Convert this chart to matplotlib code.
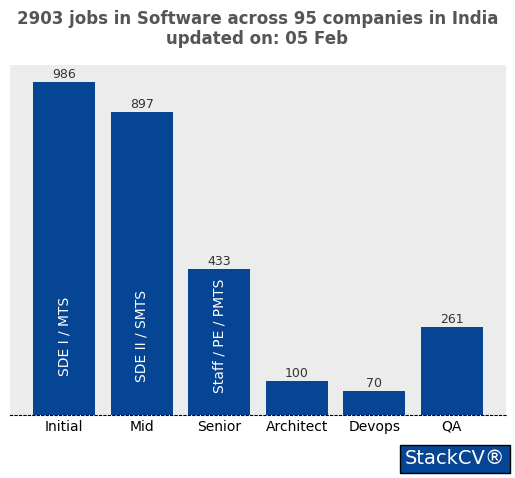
import matplotlib.pyplot as plt

levels = ['Initial', 'Mid', 'Senior', 'Architect', 'Devops', 'QA']
jobs = [986, 897, 433, 100, 70, 261]
inner_labels = ['SDE I / MTS', 'SDE II / SMTS', 'Staff / PE / PMTS']

fig = plt.figure(figsize=(5.15, 4.78), dpi=100)
ax = fig.add_axes([10/515, 1-415/478, 496/515, 350/478])
ax.set_facecolor('#ececec')
bars = ax.bar(levels, jobs, color='#064494', width=0.8)
ax.set_ylim(0, 1036)
ax.set_xlim(-0.7, 5.7)
ax.set_yticks([])
for s in ['top', 'right', 'left']:
    ax.spines[s].set_visible(False)
ax.spines['bottom'].set_linestyle((0, (2, 2)))
ax.spines['bottom'].set_color('black')
ax.tick_params(axis='x', length=0, labelsize=10)

for bar in bars:
    h = bar.get_height()
    ax.text(bar.get_x() + bar.get_width()/2, h + 3, f'{int(h)}',
            ha='center', va='bottom', fontsize=9, color='#333333')

for i, lab in enumerate(inner_labels):
    ax.text(i, 234, lab, rotation=90, ha='center', va='center',
            color='white', fontsize=10)

fig.suptitle('2903 jobs in Software across 95 companies in India\nupdated on: 05 Feb',
             y=0.98, fontsize=12, fontweight='bold', color='#555555')

fig.text(455/515, 1-459/478, 'StackCV®', ha='center', va='center', color='white',
         fontsize=14, bbox=dict(boxstyle='square,pad=0.25', fc='#064494', ec='black', lw=1))

fig.savefig('out.png', dpi=100)
